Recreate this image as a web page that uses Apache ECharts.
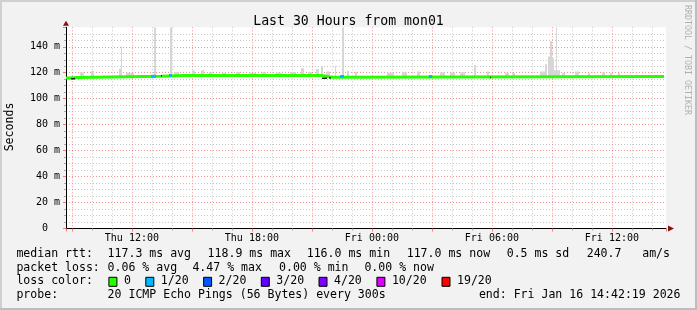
<!DOCTYPE html>
<html><head><meta charset="utf-8">
<script src="https://cdn.jsdelivr.net/npm/echarts@6/dist/echarts.min.js"></script>
<style>html,body{margin:0;padding:0;background:#f2f2f2}#c{width:697px;height:310px}</style>
</head><body><div id="c"></div>
<script>
// ---------------- data ----------------
// time is in hours counted from Thu 00:00
const xStart = 8.7053;            // Thu 08:42:19
const xEnd = 38.7053;             // Fri 14:42:19
const xLabelHours = [12, 18, 24, 30, 36];
const xLabelTexts = ['Thu 12:00', 'Thu 18:00', 'Fri 00:00', 'Fri 06:00', 'Fri 12:00'];
const yMax = 155;
const yLabelValues = [0, 20, 40, 60, 80, 100, 120, 140];
const yLabelTexts = ['0  ', '20 m', '40 m', '60 m', '80 m', '100 m', '120 m', '140 m'];

// median rtt (ms): [fromHour, toHour, ms]
const medianSegments = [
  [8.705, 8.855, 116.0], [8.855, 9.255, 116.4], [9.255, 13.455, 117.2],
  [13.455, 14.655, 117.9], [14.655, 14.755, 118.9], [14.755, 21.505, 117.9],
  [21.505, 22.005, 116.5], [22.005, 38.605, 117.1]
];
// smoke (max ping rtt, ms): [fromHour, toHour, ms]
const smokeBands = [
  [9.405, 9.605, 120.4], [9.955, 10.105, 121.4], [11.355, 11.505, 123], [11.455, 11.505, 140],
  [11.705, 12.105, 120], [13.105, 13.205, 155], [13.905, 14.005, 155], [14.105, 14.355, 120.4],
  [15.005, 15.155, 121.7], [15.455, 15.605, 122], [15.855, 16.005, 120.4], [16.505, 16.705, 120],
  [17.205, 17.405, 120.5], [17.905, 18.205, 120], [18.505, 18.705, 120.4], [19.205, 19.505, 120],
  [19.905, 20.205, 120.5], [20.455, 20.605, 123.5], [20.805, 21.005, 120.5], [21.205, 21.355, 122.7],
  [21.455, 21.555, 124.8], [21.705, 21.905, 121], [22.155, 22.205, 125.3], [22.505, 22.605, 155],
  [22.755, 22.855, 121.4], [23.155, 23.255, 120.8], [24.755, 25.105, 120], [25.505, 25.755, 120.4],
  [26.255, 26.405, 121], [27.405, 27.655, 120.4], [27.905, 28.155, 120], [28.405, 28.655, 120.4],
  [29.105, 29.205, 126], [29.755, 29.855, 121], [30.655, 30.855, 120], [31.005, 31.155, 119.8],
  [32.405, 32.655, 121], [32.655, 32.755, 126.5], [32.805, 32.905, 132.5], [32.905, 33.005, 144.5],
  [33.005, 33.105, 131], [33.105, 33.405, 122], [33.205, 33.255, 155], [33.505, 33.655, 119.8],
  [34.155, 34.355, 121], [34.805, 34.905, 119.8], [35.505, 35.655, 120.4], [35.905, 36.005, 119.8],
  [36.305, 36.405, 119.8]
];
// dense smoke core showing at median steps: [fromHour, toHour, ms]
const darkSmoke = [
  [8.955, 9.155, 115.4], [13.455, 13.505, 117.6], [21.505, 21.755, 115.8],
  [21.855, 21.955, 116.2], [29.905, 29.955, 116.4]
];
// packet loss on the median line: [fromHour, toHour, lossClassIndex]
const lossMarks = [[12.955, 13.205, 1], [13.855, 14.005, 1], [22.405, 22.605, 1], [26.855, 27.005, 1]];
const lossLabels = ['0', '1/20', '2/20', '3/20', '4/20', '10/20', '19/20'];
const lossColors = ['#26ff00', '#00b8ff', '#0059ff', '#5e00ff', '#7e00ff', '#dd00ff', '#ff0000'];

const titleText = 'Last 30 Hours from mon01';
const rttHead = 'median rtt:';
const rttStats = ['117.3 ms avg', '118.9 ms max', '116.0 ms min', '117.0 ms now', '0.5 ms sd', '240.7', 'am/s'];
const lossHead = 'packet loss:';
const lossStats = ['0.06 % avg', '4.47 % max', '0.00 % min', '0.00 % now'];
const colorHead = 'loss color:';
const probeHead = 'probe:';
const probeText = '20 ICMP Echo Pings (56 Bytes) every 300s';
const endText = 'end: Fri Jan 16 14:42:19 2026';
const unitText = 'Seconds';
const creditText = 'RRDTOOL / TOBI OETIKER';

// ---------------- chart ----------------
const MONO = '"DejaVu Sans Mono", monospace';
const chart = echarts.init(document.getElementById('c'), null, {renderer: 'canvas'});

const medianLine = [];
medianSegments.forEach(s => { medianLine.push([s[0], s[2]]); medianLine.push([s[1], s[2]]); });
function medianAt(h) {
  for (const s of medianSegments) if (h >= s[0] && h <= s[1]) return s[2];
  return medianSegments[medianSegments.length - 1][2];
}

const legFont = '11.55px ' + MONO;
const rowY = [254, 267.7, 281.3, 295];
const g = [];
function txt(t, x, y, align) {
  g.push({type: 'text', x: x, y: y, silent: true,
    style: {text: t, font: legFont, fill: '#000', align: align || 'left', verticalAlign: 'middle'}});
}
txt(rttHead, 16.4, rowY[0]);
[107.6, 207.6, 306.7, 406.7, 506.7, 586.7, 642.2].forEach((x, i) => txt(rttStats[i], x, rowY[0]));
txt(lossHead, 16.4, rowY[1]);
[107.6, 192.4, 279, 364.4].forEach((x, i) => txt(lossStats[i], x, rowY[1]));
txt(colorHead, 16.4, rowY[2]);
[108.9, 145.8, 203.6, 261.3, 319, 376.9, 442].forEach((x, i) => {
  g.push({type: 'rect', x: x, y: rowY[2] - 4, silent: true, shape: {x: 0, y: 0, width: 8, height: 9},
    style: {fill: lossColors[i], stroke: '#000', lineWidth: 1}});
  txt(lossLabels[i], x + 15, rowY[2]);
});
txt(probeHead, 16.4, rowY[3]);
txt(probeText, 107.6, rowY[3]);
txt(endText, 680.5, rowY[3], 'right');
g.push({type: 'text', x: 10, y: 127, rotation: Math.PI / 2, silent: true,
  style: {text: unitText, font: '11.55px ' + MONO, fill: '#000', align: 'center', verticalAlign: 'middle'}});
g.push({type: 'text', x: 687.5, y: 60, rotation: -Math.PI / 2, silent: true,
  style: {text: creditText, font: '8.3px ' + MONO, fill: '#b0b0b0', align: 'center', verticalAlign: 'middle'}});
// frame
g.push({type: 'rect', silent: true, shape: {x: 0, y: 0, width: 697, height: 2}, style: {fill: '#d0d0d0'}});
g.push({type: 'rect', silent: true, shape: {x: 0, y: 0, width: 2, height: 310}, style: {fill: '#d0d0d0'}});
g.push({type: 'rect', silent: true, shape: {x: 0, y: 308, width: 697, height: 2}, style: {fill: '#bdbdbd'}});
g.push({type: 'rect', silent: true, shape: {x: 695, y: 0, width: 2, height: 310}, style: {fill: '#bdbdbd'}});

const redGrid = {color: 'rgba(240,110,110,0.75)', width: 1, type: [1, 2]};
const grayGrid = {color: '#c8c8c8', width: 1, type: [1, 2]};

chart.setOption({
  animation: false,
  backgroundColor: '#f2f2f2',
  title: {text: titleText, left: 'center', top: 10,
    textStyle: {fontFamily: MONO, fontSize: 13.2, fontWeight: 'normal', color: '#000'}},
  grid: {left: 66, right: 31, top: 27.3, bottom: 81.5, show: true, backgroundColor: '#ffffff', borderWidth: 0},
  xAxis: [{
    type: 'value', min: xStart, max: xEnd, minInterval: 3, maxInterval: 3, splitNumber: 10,
    position: 'bottom',
    axisLine: {show: true, onZero: false, lineStyle: {color: '#000', width: 1}},
    axisTick: {show: true, length: 3, lineStyle: {color: 'rgba(240,110,110,0.9)'}},
    minorTick: {show: true, splitNumber: 3, length: 2, lineStyle: {color: '#aaa'}},
    axisLabel: {
      formatter: v => { const i = xLabelHours.indexOf(Math.round(v * 1000) / 1000); return i < 0 ? '' : xLabelTexts[i]; },
      fontFamily: MONO, fontSize: 10, color: '#000', margin: 5, hideOverlap: false
    },
    splitLine: {show: true, showMinLine: false, showMaxLine: false, lineStyle: redGrid},
    minorSplitLine: {show: true, lineStyle: grayGrid}
  }, {
    type: 'value', min: xStart, max: xEnd, position: 'bottom', offset: 0,
    axisLine: {show: true, onZero: false, symbol: ['none', 'triangle'], symbolSize: [6, 6], symbolOffset: [0, 5],
      lineStyle: {color: '#8a1010', width: 0}},
    axisTick: {show: false}, axisLabel: {show: false}, splitLine: {show: false}
  }],
  yAxis: [{
    type: 'value', min: 0, max: yMax, interval: 20, position: 'left',
    axisLine: {show: true, lineStyle: {color: '#000', width: 1}},
    axisTick: {show: true, length: 3, lineStyle: {color: 'rgba(240,110,110,0.9)'}},
    minorTick: {show: true, splitNumber: 4, length: 2, lineStyle: {color: '#aaa'}},
    axisLabel: {
      formatter: v => { const i = yLabelValues.indexOf(v); return i < 0 ? '' : yLabelTexts[i]; },
      fontFamily: MONO, fontSize: 10, color: '#000', margin: 6
    },
    splitLine: {show: true, showMinLine: false, showMaxLine: false, lineStyle: redGrid},
    minorSplitLine: {show: true, lineStyle: grayGrid}
  }, {
    type: 'value', min: 0, max: yMax, position: 'left', offset: 0,
    axisLine: {show: true, symbol: ['none', 'triangle'], symbolSize: [6, 5], symbolOffset: [0, 4],
      lineStyle: {color: '#8a1010', width: 0}},
    axisTick: {show: false}, axisLabel: {show: false}, splitLine: {show: false}
  }],
  graphic: g,
  series: [{
    type: 'custom', name: 'smoke', xAxisIndex: 0, yAxisIndex: 0, clip: true, z: 2,
    encode: {x: [0, 1], y: 2},
    data: smokeBands,
    renderItem: (params, api) => {
      const a = api.coord([api.value(0), api.value(2)]);
      const b = api.coord([api.value(1), medianAt(api.value(0)) - 0.5]);
      return {type: 'rect', shape: {x: a[0], y: a[1], width: Math.max(1, b[0] - a[0]), height: b[1] - a[1]},
        style: {fill: '#d6d6d6'}};
    }
  }, {
    type: 'line', name: 'median', xAxisIndex: 0, yAxisIndex: 0, data: medianLine, showSymbol: false,
    z: 3, lineStyle: {color: lossColors[0], width: 3, join: 'miter', cap: 'butt'}
  }, {
    type: 'custom', name: 'core', xAxisIndex: 0, yAxisIndex: 0, clip: true, z: 4,
    encode: {x: [0, 1], y: 2},
    data: darkSmoke,
    renderItem: (params, api) => {
      const a = api.coord([api.value(0), api.value(2)]);
      const b = api.coord([api.value(1), api.value(2)]);
      return {type: 'rect', shape: {x: a[0], y: a[1] - 0.75, width: Math.max(1, b[0] - a[0]), height: 1.5},
        style: {fill: '#222'}};
    }
  }, {
    type: 'custom', name: 'loss', xAxisIndex: 0, yAxisIndex: 0, clip: true, z: 5,
    encode: {x: [0, 1]},
    data: lossMarks,
    renderItem: (params, api) => {
      const h0 = api.value(0), h1 = api.value(1);
      const a = api.coord([h0, medianAt(h0)]);
      const b = api.coord([h1, medianAt(h0)]);
      return {type: 'rect', shape: {x: a[0], y: a[1] - 1.5, width: Math.max(1, b[0] - a[0]), height: 3},
        style: {fill: lossColors[api.value(2)]}};
    }
  }]
});
</script>
</body></html>
